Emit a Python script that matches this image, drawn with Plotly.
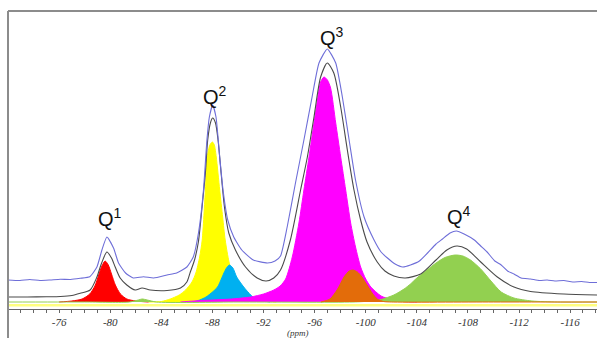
import plotly.graph_objects as go

# ---------------- data (chemical shift in ppm, intensity in arbitrary units) ----------------
TICK_VALUES = [-76, -80, -84, -88, -92, -96, -100, -104, -108, -112, -116]
TICK_LABELS = [str(v) for v in TICK_VALUES]

# Q1 component (red)
RED_PPM = [-76.0, -77.0, -77.8, -78.4, -78.8, -79.1, -79.35, -79.6, -79.85, -80.1, -80.4, -80.8, -81.3, -82.0, -83.0]
RED_INT = [0, 1, 3, 8, 16, 27, 36, 41, 37, 28, 17, 8, 3, 1, 0]

# Q2 main component (yellow)
YELLOW_PPM = [-83.0, -84.0, -84.7, -85.4, -85.9, -86.4, -86.7, -87.0, -87.2, -87.45, -87.6, -87.8, -88.0,
              -88.15, -88.3, -88.57, -88.8, -89.0, -89.3, -89.7, -90.2, -91.0, -92.0, -93.0]
YELLOW_INT = [0, 0.5, 3, 7, 12, 20, 29, 45, 62, 112, 145, 157, 160,
              157, 145, 112, 85, 62, 40, 22, 11, 4, 1, 0]

# Q2 second component (light blue)
CYAN_PPM = [-86.5, -87.0, -87.5, -88.0, -88.4, -88.9, -89.1, -89.33, -89.6, -89.9, -90.45, -91.0, -91.4, -92.0, -92.5]
CYAN_INT = [0, 2, 5, 10, 15, 29, 34, 37, 34, 25, 15, 7, 3, 1, 0]

# Q3 main component (magenta)
MAGENTA_PPM = [-85.5, -86.5, -88.0, -89.5, -91.0, -92.0, -92.8, -93.3, -93.73, -94.25, -94.77, -95.16, -95.56,
               -95.95, -96.2, -96.47, -96.73, -97.0, -97.25, -97.65, -98.04, -98.43, -98.82, -99.2, -99.6,
               -100.0, -100.4, -101.2, -102.0, -103.0, -104.0]
MAGENTA_INT = [0, 1, 2, 3, 5, 8, 12, 16, 23, 45, 79, 112, 145,
               179, 200, 220, 225, 222, 214, 179, 145, 112, 79, 55, 35,
               23, 15, 6, 2.5, 0.5, 0]

# Q3 second component (orange)
ORANGE_PPM = [-96.5, -97.2, -97.8, -98.3, -98.7, -99.0, -99.35, -99.7, -100.1, -100.5, -100.9, -101.4, -102.0, -110.0, -118.1]
ORANGE_INT = [0, 3, 13, 25, 31, 32, 30, 25, 17, 9, 3, 0.5, 0, 0, 0]

# Q4 component (green) incl. the small feature near -82.5 ppm
GREEN_PPM = [-72.0, -78.0, -81.5, -82.2, -82.5, -82.9, -83.6, -90.0, -99.0, -100.4, -101.2, -102.2, -103.0, -103.5,
             -104.0, -104.8, -105.5, -106.2, -107.0, -107.6, -108.2, -109.0, -109.8, -110.6, -111.6,
             -113.0, -115.0, -118.1]
GREEN_INT = [0, 0, 0, 2, 3, 2, 0, 0, 0, 1, 2.5, 7, 13, 18,
             24, 32, 39, 44.5, 47, 46, 42, 33, 21, 10, 4,
             1, 0, 0]

# fitted sum (black, displaced)
FIT_PPM = [-72.0, -73.5, -75.0, -76.1, -77.0, -77.65, -78.43, -78.96, -79.3, -79.74, -80.1, -80.39, -80.78,
           -81.3, -81.96, -82.49, -83.14, -84.45, -85.5, -86.0, -86.27, -86.6, -86.9, -87.19, -87.45,
           -87.63, -87.84, -88.02, -88.24, -88.44, -88.68, -88.94, -89.28, -89.8, -90.59, -91.5, -92.2,
           -92.8, -93.33, -94.1, -94.9, -95.43, -95.95, -96.47, -96.99, -97.5, -98.04, -98.56, -99.08,
           -99.6, -100.1, -100.9, -101.5, -102.2, -103.1, -104.3, -105.5, -106.35, -107.14, -107.9,
           -109.0, -110.3, -111.6, -112.9, -115.5, -118.1]
FIT_INT = [5, 5, 5.2, 5.5, 6.5, 8.7, 12, 25, 38, 50, 44, 35, 24,
           17, 12, 14, 12, 11.5, 14, 20, 30, 42, 60, 95, 129,
           162, 179, 184, 179, 162, 129, 95, 69, 52, 35, 24, 21,
           24, 32, 62, 112, 145, 185, 225, 239, 229, 195, 152, 112,
           82, 60, 40, 31, 26, 24, 28, 42, 52, 56, 53,
           40, 25, 15, 10.5, 8, 7]

# experimental spectrum (blue, displaced)
EXP_PPM = [-72.0, -72.94, -73.7, -74.5, -75.3, -76.1, -76.9, -77.65, -78.4, -78.96, -79.35, -79.74, -80.26,
           -80.65, -81.2, -81.8, -82.6, -83.4, -84.45, -85.2, -86.0, -86.5, -86.92, -87.3, -87.57,
           -87.76, -88.02, -88.28, -88.57, -88.83, -89.2, -89.67, -90.3, -91.2, -92.3, -92.9, -93.33,
           -93.85, -94.5, -95.16, -95.8, -96.34, -96.99, -97.65, -98.17, -98.7, -99.2, -99.87, -100.65,
           -101.2, -101.7, -102.3, -102.9, -103.5, -104.2, -104.84, -105.5, -106.0, -106.6, -107.1,
           -107.7, -108.5, -109.0, -109.5, -110.1, -110.6, -111.1, -111.6, -112.16, -112.9, -113.6,
           -114.2, -114.8, -115.5, -116.2, -116.9, -117.5, -118.1]
EXP_INT = [22, 21.5, 22.5, 21.5, 22, 22.7, 22.5, 23.7, 25.3, 35, 52, 65, 54,
           39, 29, 24, 25.3, 24, 27, 29, 35, 45, 70, 112, 162,
           185, 197, 185, 145, 112, 82, 65, 52, 42, 39, 41, 46,
           75, 119, 162, 205, 239, 253, 239, 205, 162, 122, 85, 62,
           50, 44, 38, 35, 37, 41, 49, 58, 63, 69, 71,
           68, 62, 56, 50, 41, 37, 31, 28, 24, 23, 21.5,
           22, 21, 21.5, 20, 20.5, 19.5, 19.5]

PEAK_LABELS = ["Q<sup>1</sup>", "Q<sup>2</sup>", "Q<sup>3</sup>", "Q<sup>4</sup>"]
PEAK_LABEL_PPM = [-79.96, -88.2, -97.33, -107.3]
PEAK_LABEL_INT = [85, 207, 266, 87]

AXIS_TITLE = "(ppm)"

# ---------------- figure ----------------
fig = go.Figure()

components = [
    (YELLOW_PPM, YELLOW_INT, "#FFFF00"),
    (CYAN_PPM, CYAN_INT, "#00B0F0"),
    (RED_PPM, RED_INT, "#FF0000"),
    (MAGENTA_PPM, MAGENTA_INT, "#FF00FF"),
    (GREEN_PPM, GREEN_INT, "#92D050"),
    (ORANGE_PPM, ORANGE_INT, "#E36C0A"),
]
for xs, ys, col in components:
    fig.add_trace(go.Scatter(
        x=xs, y=ys, mode="lines", fill="tozeroy", fillcolor=col,
        line=dict(color=col, width=1, shape="spline", smoothing=0.7),
        hoverinfo="skip", showlegend=False))

fig.add_trace(go.Scatter(x=FIT_PPM, y=FIT_INT, mode="lines",
                         line=dict(color="#4a4a4a", width=1.1, shape="spline", smoothing=0.7),
                         hoverinfo="skip", showlegend=False))
fig.add_trace(go.Scatter(x=EXP_PPM, y=EXP_INT, mode="lines",
                         line=dict(color="#6E6ED8", width=1.1, shape="spline", smoothing=0.5),
                         hoverinfo="skip", showlegend=False))

for txt, px, py in zip(PEAK_LABELS, PEAK_LABEL_PPM, PEAK_LABEL_INT):
    fig.add_annotation(x=px, y=py, text=txt, showarrow=False,
                       font=dict(family="Liberation Sans, Arial, sans-serif", size=20, color="#111111"),
                       xanchor="center", yanchor="middle")

fig.add_annotation(x=0.492, y=-0.082, xref="paper", yref="paper", text=AXIS_TITLE, showarrow=False,
                   font=dict(family="Liberation Serif, serif", size=9, color="#333333", style="italic"),
                   xanchor="center", yanchor="middle")

# frame lines (left + top) and the pale baseline band
fig.add_shape(type="line", xref="paper", yref="paper", x0=0, x1=0, y0=-0.1, y1=1,
              line=dict(color="#8c8c8c", width=2))
fig.add_shape(type="line", xref="paper", yref="paper", x0=0, x1=1, y0=1, y1=1,
              line=dict(color="#8c8c8c", width=2))
fig.add_shape(type="line", xref="paper", yref="y", x0=0, x1=1, y0=-3.3, y1=-3.3,
              line=dict(color="#FFFF80", width=2.5), layer="below")

fig.update_layout(
    width=597, height=338,
    margin=dict(l=8, r=0, t=11, b=29),
    paper_bgcolor="white", plot_bgcolor="white",
    xaxis=dict(range=[-72.0, -118.1], tickmode="array", tickvals=TICK_VALUES, ticktext=TICK_LABELS,
               showgrid=False, zeroline=False, showline=True, linecolor="#666666", linewidth=1,
               ticks="outside", ticklen=3, tickcolor="#666666", tickwidth=1,
               tickfont=dict(family="Liberation Serif, serif", size=11, color="#333333", style="italic"),
               minor=dict(dtick=1, tick0=0, ticks="outside", ticklen=3, tickcolor="#666666", showgrid=False)),
    yaxis=dict(range=[-7, 291], visible=False, showgrid=False, zeroline=False),
)

fig.write_html("out.html", config={"displayModeBar": False},
               post_script="document.body.style.margin='0';")
